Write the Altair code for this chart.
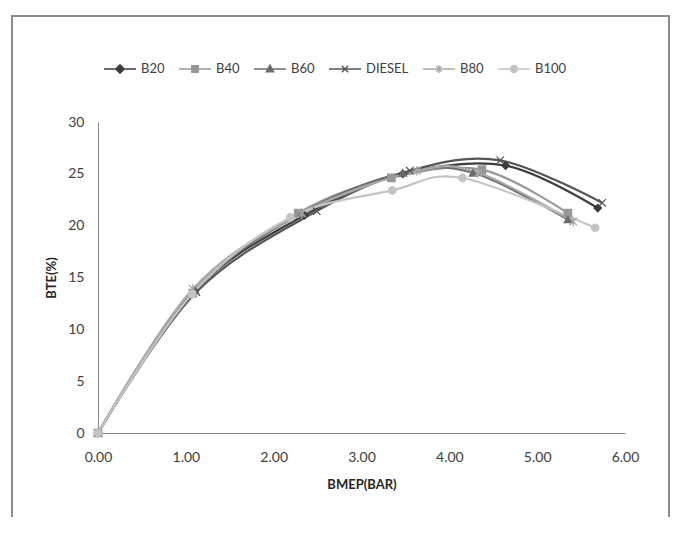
import altair as alt
import pandas as pd

series = ["B20", "B40", "B60", "DIESEL", "B80", "B100"]
colors = ["#3c3c3c", "#979797", "#6c6c6c", "#555555", "#a8a8a8", "#c4c4c4"]

bmep = {
    "B20":    [0.00, 1.10, 2.35, 3.47, 4.64, 5.69],
    "B40":    [0.00, 1.08, 2.28, 3.34, 4.37, 5.35],
    "B60":    [0.00, 1.10, 2.32, 3.47, 4.27, 5.35],
    "DIESEL": [0.00, 1.12, 2.49, 3.55, 4.58, 5.74],
    "B80":    [0.00, 1.08, 2.32, 3.63, 4.33, 5.41],
    "B100":   [0.00, 1.07, 2.19, 3.35, 4.15, 5.66],
}
bte = {
    "B20":    [0, 13.7, 21.0, 25.0, 25.8, 21.7],
    "B40":    [0, 13.5, 21.2, 24.6, 25.4, 21.2],
    "B60":    [0, 13.8, 21.2, 25.1, 25.1, 20.6],
    "DIESEL": [0, 13.6, 21.4, 25.3, 26.3, 22.2],
    "B80":    [0, 13.9, 21.2, 25.3, 25.1, 20.4],
    "B100":   [0, 13.4, 20.8, 23.4, 24.6, 19.8],
}

x_ticks = [0, 1, 2, 3, 4, 5, 6]
y_ticks = [0, 5, 10, 15, 20, 25, 30]

rows = []
for s in series:
    for xv, yv in zip(bmep[s], bte[s]):
        rows.append({"series": s, "bmep": xv, "bte": yv})
df = pd.DataFrame(rows)

point_shapes = [
    "diamond",
    "square",
    "triangle-up",
    "M-1,-1L1,1M-1,1L1,-1",
    "M-1,-1L1,1M-1,1L1,-1M0,-1.3V1.3",
    "circle",
]

seg = "M-1,0H1"
legend_paths = [
    seg + "M0,-0.26L0.26,0L0,0.26L-0.26,0Z",
    seg + "M-0.2,-0.2H0.2V0.2H-0.2Z",
    seg + "M0,-0.25L0.23,0.18H-0.23Z",
    seg + "M-0.2,-0.2L0.2,0.2M-0.2,0.2L0.2,-0.2",
    seg + "M-0.18,-0.18L0.18,0.18M-0.18,0.18L0.18,-0.18M0,-0.25V0.25",
    seg + "M0.22,0A0.22,0.22,0,1,1,-0.22,0A0.22,0.22,0,1,1,0.22,0Z",
]

legend = alt.Legend(
    title=None,
    orient="none",
    direction="horizontal",
    columns=6,
    legendX=5,
    legendY=-70,
    padding=0,
    columnPadding=11,
    labelOffset=4,
    symbolSize=1024,
    symbolStrokeWidth=1.4,
    labelFont="Lato",
    labelFontSize=13,
    labelColor="#404040",
)

color_scale = alt.Scale(domain=series, range=colors)

xenc = alt.X(
    "bmep:Q",
    title="BMEP(BAR)",
    scale=alt.Scale(domain=[0, 6], nice=False),
    axis=alt.Axis(values=x_ticks, format=".2f", grid=False, ticks=False, tickSize=0,
                  labelFlush=False, labelPadding=17, titlePadding=14, domainColor="#868686",
                  labelFont="Lato", labelFontSize=14, labelColor="#404040",
                  titleFont="Lato", titleFontSize=13, titleFontWeight="bold", titleColor="#262626"),
)
yenc = alt.Y(
    "bte:Q",
    title="BTE(%)",
    scale=alt.Scale(domain=[0, 30], nice=False),
    axis=alt.Axis(values=y_ticks, grid=False, ticks=False, tickSize=0,
                  labelFlush=False, labelPadding=14, titlePadding=9, domainColor="#868686",
                  labelFont="Lato", labelFontSize=14, labelColor="#404040",
                  titleFont="Lato", titleFontSize=13, titleFontWeight="bold", titleColor="#262626"),
)

lines = alt.Chart(df).mark_line(interpolate="cardinal", strokeWidth=2.2).encode(
    x=xenc,
    y=yenc,
    color=alt.Color("series:N", scale=color_scale, legend=legend),
)

# chart markers: one layer per series with its own fixed shape
point_layers = [
    alt.Chart(df).transform_filter(alt.datum.series == s).mark_point(
        filled=True, size=55, strokeWidth=1.3, shape=shp, fill=col, stroke=col, opacity=1
    ).encode(x="bmep:Q", y="bte:Q")
    for s, shp, col in zip(series, point_shapes, colors)
]

# legend-only layer (zero-size marks) carrying the line+marker legend symbols
legend_layer = alt.Chart(df).mark_point(filled=True, size=0, strokeWidth=1.4).encode(
    x="bmep:Q",
    y="bte:Q",
    fill=alt.Fill("series:N", scale=color_scale, legend=None),
    stroke=alt.Stroke("series:N", scale=color_scale, legend=None),
    shape=alt.Shape("series:N", scale=alt.Scale(domain=series, range=legend_paths), legend=None),
)

frame = alt.Chart(pd.DataFrame({"a": [0]})).mark_rect(
    fill=None, stroke="#8c8c8c", strokeWidth=2, clip=False
).encode(
    x=alt.value(-86), x2=alt.value(571), y=alt.value(-106), y2=alt.value(430)
)

chart = alt.layer(frame, lines, *point_layers, legend_layer).properties(
    width=527,
    height=311,
    autosize=alt.AutoSizeParams(type="none"),
    padding={"left": 90, "top": 114, "right": 48, "bottom": 84},
).configure_view(stroke=None)

chart.save("out.html", embed_options={"renderer": "svg", "actions": False})
